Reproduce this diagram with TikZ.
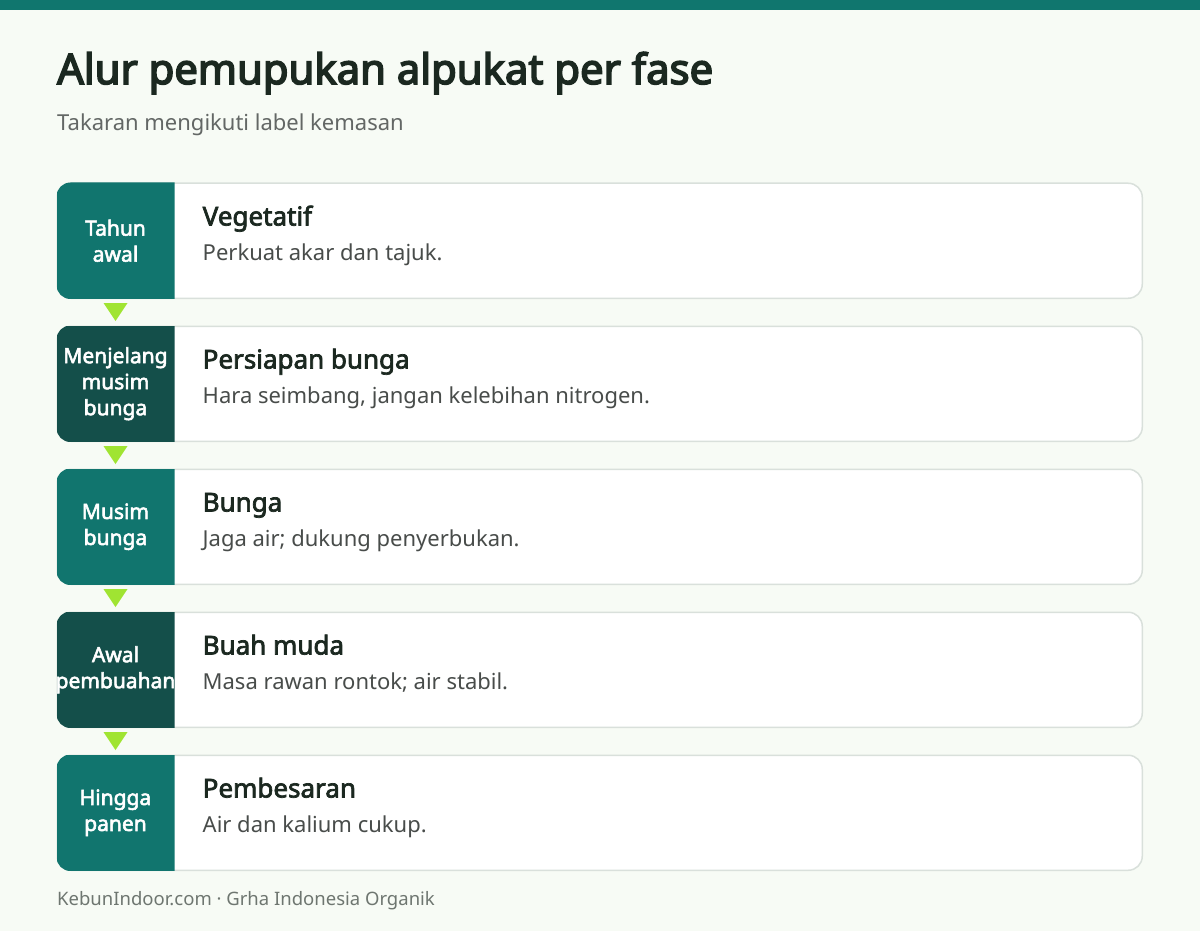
\documentclass[tikz,border=0pt]{standalone}
\usepackage{fontspec}
\setmainfont{Noto Sans}
\newfontfamily\boldfont{Noto Sans}[FakeBold=2.7]
\newfontfamily\titlefont{Noto Sans}[FakeBold=3.8]
\usetikzlibrary{positioning}
\definecolor{bgpage}{RGB}{247,251,245}
\definecolor{topbar}{RGB}{16,118,110}
\definecolor{tealtab}{RGB}{17,117,110}
\definecolor{darktab}{RGB}{20,79,74}
\definecolor{limearrow}{RGB}{160,228,50}
\definecolor{cardline}{RGB}{217,224,219}
\definecolor{inkdark}{RGB}{27,40,32}
\definecolor{inkgrey}{RGB}{72,76,74}
\definecolor{inkfoot}{RGB}{110,118,112}
\tikzset{card/.style={draw=cardline,line width=1.5pt,fill=white,rounded corners=14pt,
    minimum width=1085pt,minimum height=115pt,anchor=north west,inner sep=0pt}}
\tikzset{tablabel/.style={text=white,font=\boldfont\fontsize{21}{26}\selectfont,align=center,inner sep=0pt}}
\tikzset{cardtitle/.style={anchor=base west,text=inkdark,font=\boldfont\fontsize{26}{30}\selectfont,inner sep=0pt}}
\tikzset{carddesc/.style={anchor=base west,text=inkgrey,font=\fontsize{22}{26}\selectfont,inner sep=0pt}}
% coloured tab on the left of a card, its label clipped to the tab
\newcommand{\tabfill}[4]{%
  \begin{scope}
    \clip[rounded corners=14pt] (#1.north west) rectangle (#1.south east);
    \clip (#1.north west) rectangle ([shift={(118,0)}]#1.south west);
    \fill[#2] (#1.north west) rectangle ([shift={(118,0)}]#1.south west);
    \node[tablabel] (#3) at ([shift={(59,0)}]#1.west) {#4};
  \end{scope}}
\newcommand{\flowdown}[1]{%
  \fill[limearrow] ([shift={(47,4)}]#1.south west) -- ([shift={(71,4)}]#1.south west)
    -- ([shift={(59,22)}]#1.south west) -- cycle;}

\begin{document}
\begin{tikzpicture}[
		x=1pt, y=-1pt, % pixel grid, y going down
		node distance = 26.5pt % gap between cards
		]
		
		% page
		\fill[bgpage] (0,0) rectangle (1200,931);
		\useasboundingbox (0,0) rectangle (1200,931);
		\fill[topbar] (0,0) rectangle (1200,10);
		
		\node[anchor=base west,inner sep=0pt,text=inkdark,font=\titlefont\fontsize{41.8}{46}\selectfont] (title) at (57,84) {Alur pemupukan alpukat per fase};
		\node[anchor=base west,inner sep=0pt,text=inkgrey!85,font=\fontsize{22}{26}\selectfont] (subtitle) at (57,131) {Takaran mengikuti label kemasan};
		
		% cards
		\node[card] (card1) at (56.5,182.5) {};
		\node[card] (card2) [below=of card1] {};
		\node[card] (card3) [below=of card2] {};
		\node[card] (card4) [below=of card3] {};
		\node[card] (card5) [below=of card4] {};
		
		% phase tabs
		\tabfill{card1}{tealtab}{tab1}{Tahun\\awal}
		\tabfill{card2}{darktab}{tab2}{Menjelang\\musim\\bunga}
		\tabfill{card3}{tealtab}{tab3}{Musim\\bunga}
		\tabfill{card4}{darktab}{tab4}{Awal\\pembuahan}
		\tabfill{card5}{tealtab}{tab5}{Hingga\\panen}
		
		% texts
		\node[cardtitle] (name1) at ([shift={(146,43)}]card1.north west) {Vegetatif};
		\node[carddesc] (desc1) at ([shift={(146,78)}]card1.north west) {Perkuat akar dan tajuk.};
		\node[cardtitle] (name2) at ([shift={(146,43)}]card2.north west) {Persiapan bunga};
		\node[carddesc] (desc2) at ([shift={(146,78)}]card2.north west) {Hara seimbang, jangan kelebihan nitrogen.};
		\node[cardtitle] (name3) at ([shift={(146,43)}]card3.north west) {Bunga};
		\node[carddesc] (desc3) at ([shift={(146,78)}]card3.north west) {Jaga air; dukung penyerbukan.};
		\node[cardtitle] (name4) at ([shift={(146,43)}]card4.north west) {Buah muda};
		\node[carddesc] (desc4) at ([shift={(146,78)}]card4.north west) {Masa rawan rontok; air stabil.};
		\node[cardtitle] (name5) at ([shift={(146,43)}]card5.north west) {Pembesaran};
		\node[carddesc] (desc5) at ([shift={(146,78)}]card5.north west) {Air dan kalium cukup.};
		
		% flow
		\flowdown{card1}
		\flowdown{card2}
		\flowdown{card3}
		\flowdown{card4}
		
		\node[anchor=base west,inner sep=0pt,text=inkfoot,font=\fontsize{18.5}{22}\selectfont] (footer) at (57,905) {KebunIndoor.com · Grha Indonesia Organik};
		\end{tikzpicture}
\end{document}
